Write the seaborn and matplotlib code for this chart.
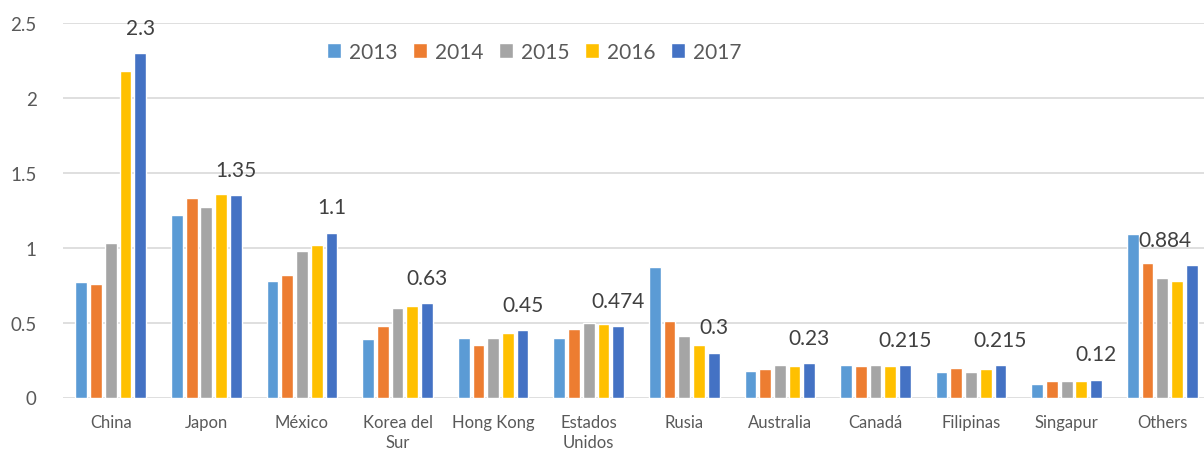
import matplotlib
matplotlib.use("Agg")
import matplotlib.pyplot as plt
import pandas as pd
import seaborn as sns

# data
countries = ["China", "Japon", "México", "Korea del\nSur", "Hong Kong", "Estados\nUnidos",
             "Rusia", "Australia", "Canadá", "Filipinas", "Singapur", "Others"]
years = ["2013", "2014", "2015", "2016", "2017"]
v2013 = [0.77, 1.22, 0.78, 0.39, 0.40, 0.40, 0.87, 0.18, 0.22, 0.17, 0.09, 1.09]
v2014 = [0.76, 1.33, 0.82, 0.48, 0.35, 0.46, 0.51, 0.19, 0.21, 0.20, 0.11, 0.90]
v2015 = [1.03, 1.27, 0.98, 0.60, 0.40, 0.50, 0.41, 0.22, 0.215, 0.17, 0.11, 0.80]
v2016 = [2.18, 1.36, 1.02, 0.61, 0.43, 0.49, 0.35, 0.21, 0.21, 0.19, 0.11, 0.78]
v2017 = [2.30, 1.35, 1.10, 0.63, 0.45, 0.474, 0.30, 0.23, 0.215, 0.215, 0.12, 0.884]
labels_2017 = ["2.3", "1.35", "1.1", "0.63", "0.45", "0.474", "0.3", "0.23",
               "0.215", "0.215", "0.12", "0.884"]
yticks = [0, 0.5, 1, 1.5, 2, 2.5]
ytick_labels = ["0", "0.5", "1", "1.5", "2", "2.5"]
colors = ["#5B9BD5", "#ED7D31", "#A5A5A5", "#FFC000", "#4472C4"]

rows = []
for yr, vals in zip(years, [v2013, v2014, v2015, v2016, v2017]):
    for c, v in zip(countries, vals):
        rows.append({"country": c, "year": yr, "value": v})
df = pd.DataFrame(rows)

sns.set_style("white")
plt.rcParams["font.family"] = ["Lato", "DejaVu Sans"]
txt = "#595959"

fig = plt.figure(figsize=(12.04, 4.52), dpi=100)
ax = fig.add_axes([63 / 1204, 53.5 / 452, 1147 / 1204, 374.5 / 452])

sns.barplot(data=df, x="country", y="value", hue="year", palette=colors,
            width=0.77, gap=0.2, ax=ax, legend=True, saturation=1)

# value labels on the 2017 bars
texts = ax.bar_label(ax.containers[-1], labels=labels_2017, padding=11,
                     fontsize=15, color="#404040")
texts[-1].set_ha("right")

ax.set_ylim(0, 2.5)
ax.set_yticks(yticks)
ax.set_yticklabels(ytick_labels)
ax.set_xlabel("")
ax.set_ylabel("")
ax.yaxis.grid(True, color="#D9D9D9", lw=1.2)
ax.set_axisbelow(True)
for s in ax.spines.values():
    s.set_visible(False)
ax.tick_params(axis="y", length=0, pad=19, labelsize=13.5, labelcolor=txt)
ax.tick_params(axis="x", length=0, pad=12, labelsize=12, labelcolor=txt)
for lab in ax.get_xticklabels():
    lab.set_linespacing(1.3)

handles, labs = ax.get_legend_handles_labels()
ax.get_legend().remove()
fig.legend(handles, labs, loc="center", bbox_to_anchor=(534 / 1204, 1 - 53 / 452),
           ncol=5, frameon=False, fontsize=15, handlelength=0.7, handleheight=0.7,
           handletextpad=0.35, columnspacing=0.75, labelcolor=txt)

fig.savefig("out.png", dpi=100)
